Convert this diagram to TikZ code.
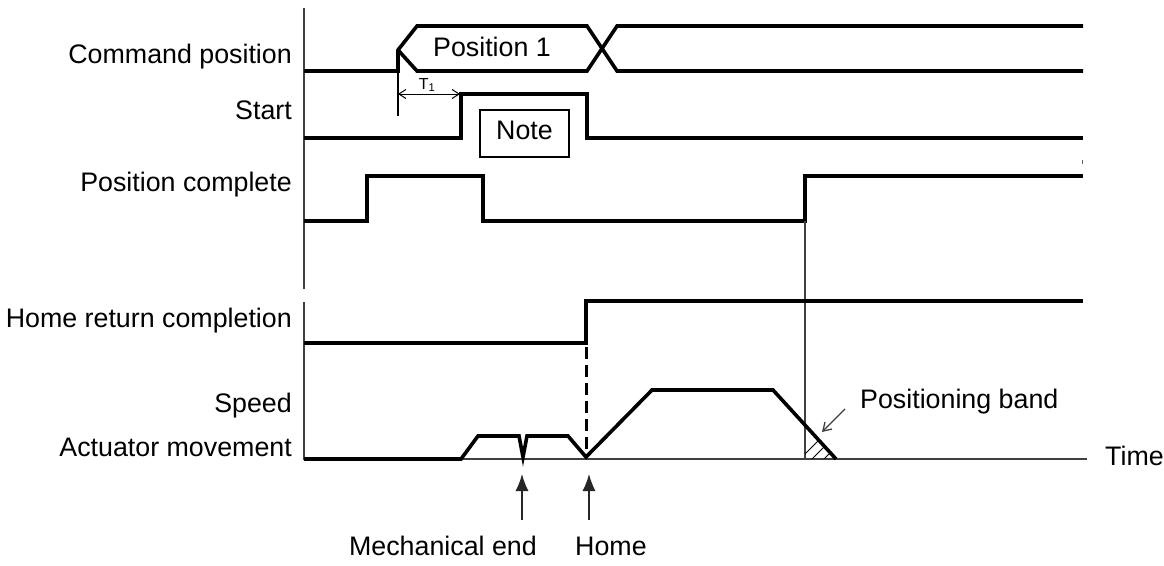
\documentclass[tikz,border=0pt]{standalone}
\usepackage{fontspec}
\setmainfont{Liberation Sans}
\usetikzlibrary{arrows.meta}

\begin{document}
\begin{tikzpicture}[x=1pt, y=-1pt, >=Latex,
	font=\fontsize{26.8}{31}\selectfont,
	signal/.style={line width=3.6pt, line join=miter},
	thinline/.style={line width=1.3pt, black!75},
	lbl/.style={anchor=base east, inner sep=0pt},
	txt/.style={inner sep=0pt}]
	\useasboundingbox (0,0) rectangle (1164,565);
	
	\draw[thinline] (304,8) -- (304,289);
	\draw[thinline] (304,302) -- (304,459) -- (1087,459);
	
	\node[lbl] (cmd) at (292,63) {Command position};
	\node[lbl] (start) at (292,119) {Start};
	\node[lbl] (poscomp) at (292,191) {Position complete};
	\node[lbl] (homecomp) at (292,327) {Home return completion};
	\node[lbl] (speed) at (292,412) {Speed};
	\node[lbl] (actuator) at (292,456) {Actuator movement};
	
	\draw[signal] (304,71) -- (398,71) -- (398,50) -- (417,26) -- (587,26) -- (617,71) -- (1083,71);
	\draw[signal] (398,50) -- (417,71) -- (587,71) -- (617,26) -- (1083,26);
	\node[txt, anchor=base] (pos1) at (492,56) {Position 1};
	
	\draw[line width=1.3pt] (398,71) -- (398,116);
	\draw[line width=1pt, {Straight Barb[length=7pt,width=9pt]}-{Straight Barb[length=7pt,width=9pt]}] (398,94) -- (460,94);
	\node[txt, anchor=base, font=\fontsize{16}{18}\selectfont] (tone) at (427,89) {T\textsubscript{1}};
	
	\draw[signal] (304,138) -- (461,138) -- (461,94) -- (587,94) -- (587,138) -- (1083,138);
	\node[draw, line width=1.3pt, minimum width=89pt, minimum height=47pt, inner sep=0pt,
	text height=15pt, text depth=4pt] (note) at (524.5,133.5) {Note};
	
	\draw[signal] (304,221) -- (367,221) -- (367,176) -- (483,176) -- (483,221) -- (805,221) -- (805,176) -- (1083,176);
	\draw[line width=1pt, black!60] (1082,160) -- (1082,164);
	\draw[thinline] (805,221) -- (805,459);
	
	\draw[signal] (304,343) -- (586,343) -- (586,301) -- (1083,301);
	\draw[line width=3pt, dash pattern=on 12pt off 6pt] (586,347) -- (586,455);
	
	\draw[signal] (304,459) -- (461,459) -- (478,436) -- (519,436) -- (523,457) -- (527,436) -- (568,436) -- (586,457) -- (652,390) -- (773,390) -- (836,459);
	
	\begin{scope}
		\clip (805,425) -- (805,459) -- (836,459) -- cycle;
		\foreach \k in {0,...,5}
		\draw[line width=1pt] (790+\k*12,469) -- ++(40,-40);
	\end{scope}
	
	\node[txt, anchor=base west] (band) at (860,408) {Positioning band};
	\coordinate (bandtail) at (845,409);
	\coordinate (bandtip) at (822,432);
	\draw[thinline, -{Straight Barb[length=8pt,width=10pt]}] (bandtail) -- (bandtip);
	
	\node[txt, anchor=base west] (time) at (1105,465) {Time};
	
	\node[txt, anchor=base east] (mech) at (537,555) {Mechanical end};
	\node[txt, anchor=base west] (home) at (575,555) {Home};
	\coordinate (mechtail) at (522,520);
	\coordinate (mechtip) at (522,474);
	\coordinate (hometail) at (589,520);
	\coordinate (hometip) at (589,474);
	\draw[thinline, black!85, -{Latex[length=17pt,width=13pt]}] (mechtail) -- (mechtip);
	\draw[thinline, black!85, -{Latex[length=17pt,width=13pt]}] (hometail) -- (hometip);
\end{tikzpicture}
\end{document}
